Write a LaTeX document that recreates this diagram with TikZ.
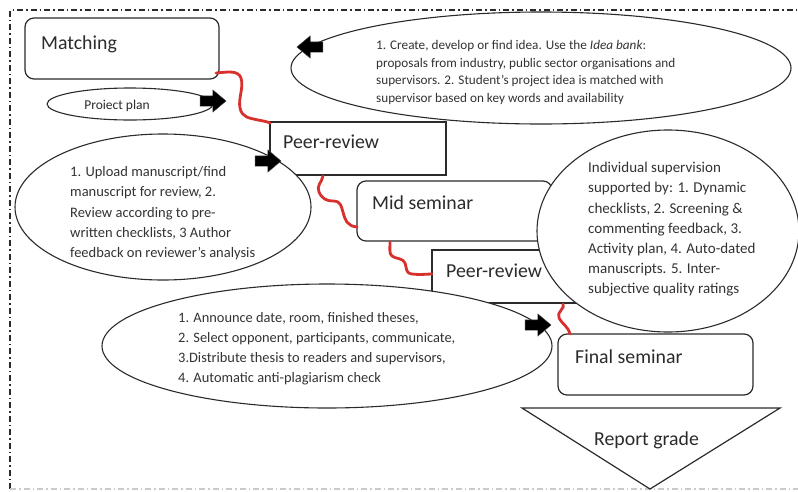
\documentclass[tikz,border=0pt]{standalone}
\usepackage{fontspec}
\setmainfont{Carlito}
\usetikzlibrary{shapes.arrows}
\definecolor{ink}{HTML}{2B2B2B}
\definecolor{txt}{HTML}{333333}
\definecolor{wire}{HTML}{D8302C}
\tikzset{
  stage/.style={draw=ink, line width=1.2pt, fill=white},
  roundstage/.style={stage, rounded corners=9pt},
  bubble/.style={draw=ink, line width=1.1pt, fill=white},
  title/.style={anchor=base west, text=ink, font=\fontsize{19.8}{22}\selectfont, inner sep=0pt},
  note/.style={anchor=north west, text=txt, align=left, inner sep=0pt,
    font=\fontsize{14.3}{20.3}\selectfont},
  wiggle/.style={draw=wire, line width=2.8pt, line join=round, line cap=round},
  blockarrow/.style={single arrow, fill=black, draw=black!70, inner sep=5pt,
    minimum height=26pt, single arrow head extend=6pt,
    single arrow tip angle=80},
  frameline/.style={draw=ink, line width=1.1pt, dash pattern=on 6pt off 3pt on 1.5pt off 3pt}
}
\begin{document}
\begin{tikzpicture}[x=1pt, y=-1pt]
\useasboundingbox (0,0) rectangle (798,491);

% outer dash-dot frame
\draw[frameline] (10,489) -- (10,10) -- (798,10);
\draw[frameline, draw=ink!25] (10,489) -- (798,489);

% stage boxes
\draw[roundstage] (25,18) rectangle (219,79);
\node[title] (matching) at (41,49) {Matching};
\coordinate (matchOut) at (216,73);

\draw[stage] (270,122) rectangle (446,175);
\node[title] (peerA) at (283,148) {Peer-review};
\coordinate (peerAIn) at (270,123);
\coordinate (peerAOut) at (323,176);

\draw[roundstage] (357,181) rectangle (552,241);
\node[title] (mid) at (372,209) {Mid seminar};
\coordinate (midIn) at (357,227);
\coordinate (midOut) at (390,242);

\draw[stage] (432,250) rectangle (600,303);
\node[title] (peerB) at (446,277) {Peer-review};
\coordinate (peerBIn) at (432,274);
\coordinate (peerBOut) at (563,304);

\draw[roundstage] (558,334) rectangle (753,395);
\node[title] (final) at (575,363) {Final seminar};
\coordinate (finalIn) at (570,334);

% report grade funnel
\draw[stage] (522,408) -- (780,408) -- (650,489) -- cycle;
\node[title] (grade) at (594,445) {Report grade};

% red links between stages
\draw[wiggle] (matchOut) .. controls (228,72) and (238,70) .. (241,78)
  .. controls (244,88) and (238,98) .. (240,108)
  .. controls (242,118) and (250,118) .. (258,120)
  .. controls (264,121) and (268,122) .. (peerAIn);
\draw[wiggle] (peerAOut) .. controls (322,182) and (316,186) .. (319,192)
  .. controls (322,199) and (327,201) .. (333,201)
  .. controls (341,201) and (341,206) .. (343,212)
  .. controls (345,220) and (347,226) .. (midIn);
\draw[wiggle] (midOut) .. controls (390,248) and (389,254) .. (392,256)
  .. controls (396,259) and (403,258) .. (405,263)
  .. controls (407,268) and (405,273) .. (412,274)
  .. controls (420,275) and (428,274) .. (peerBIn);
\draw[wiggle] (peerBOut) .. controls (566,308) and (556,312) .. (559,318)
  .. controls (562,324) and (568,326) .. (finalIn);

% descriptive bubbles
\draw[bubble] (130,104) ellipse [x radius=83, y radius=16];
\node[anchor=center, text=ink, font=\fontsize{13.5}{15}\selectfont, inner sep=0pt] (plan) at (117,106) {Proiect plan};

\draw[bubble] (541,68) ellipse [x radius=250, y radius=56];
\node[note, font=\fontsize{13.2}{17.8}\selectfont] (idea) at (376,40)
  {1. Create, develop or find idea. Use the \textit{Idea bank}:\\
   proposals from industry, public sector organisations and\\
   supervisors. 2. Student’s project idea is matched with\\
   supervisor based on key words and availability};

\draw[bubble] (163,207) ellipse [x radius=148, y radius=73];
\node[note, font=\fontsize{14.5}{20.4}\selectfont] (review) at (70,166)
  {1. Upload manuscript/find\\
   manuscript for review, 2.\\
   Review according to pre-\\
   written checklists, 3 Author\\
   feedback on reviewer’s analysis};

\draw[bubble] (668,231) ellipse [x radius=131, y radius=101];
\node[note, font=\fontsize{15}{20.2}\selectfont] (super) at (588,162)
  {Individual supervision\\
   supported by: 1. Dynamic\\
   checklists, 2. Screening \&\\
   commenting feedback, 3.\\
   Activity plan, 4. Auto-dated\\
   manuscripts. 5. Inter-\\
   subjective quality ratings};

\draw[bubble] (327,346) ellipse [x radius=225, y radius=62];
\node[note, font=\fontsize{14.4}{20}\selectfont] (seminar) at (178,312)
  {1. Announce date, room, finished theses,\\
   2. Select opponent, participants, communicate,\\
   3.Distribute thesis to readers and supervisors,\\
   4. Automatic anti-plagiarism check};

% black pointer arrows
\node[blockarrow] (arrPlan) at (210,101) {};
\node[blockarrow] (arrPeer) at (265,161) {};
\node[blockarrow, shape border rotate=180] (arrIdea) at (313,47) {};
\node[blockarrow] (arrFinal) at (535,325) {};
\end{tikzpicture}
\end{document}
